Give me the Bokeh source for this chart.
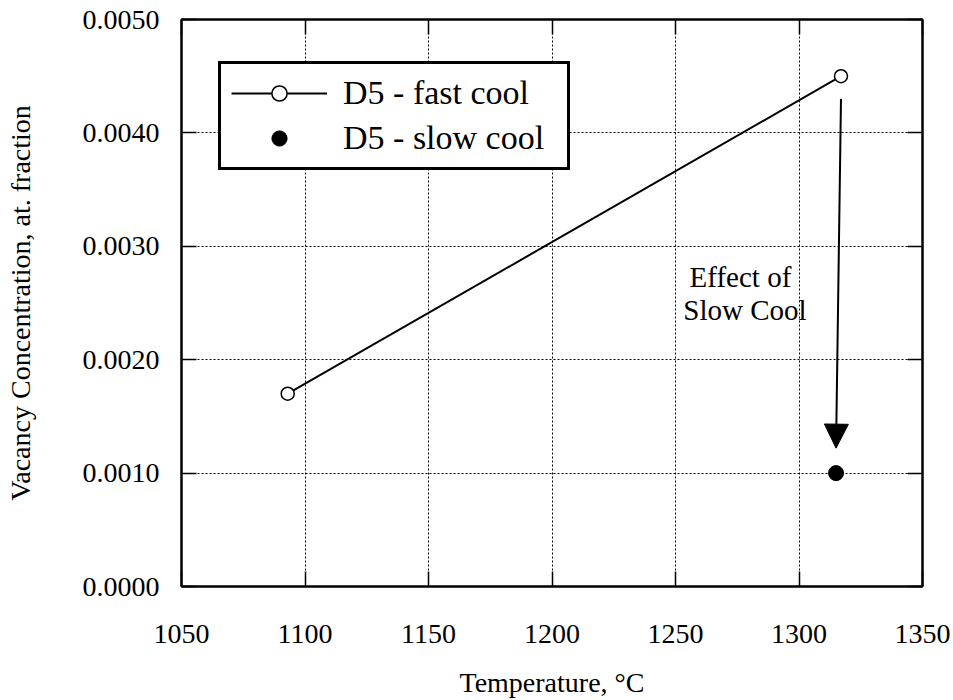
from bokeh.plotting import figure
from bokeh.models import (Range1d, FixedTicker, NumeralTickFormatter, LinearAxis,
                          Legend, LegendItem, Arrow, NormalHead, ColumnDataSource)
from bokeh.core.properties import value
from bokeh.embed import file_html
from bokeh.resources import INLINE

# Measured vacancy concentrations (at. fraction) vs. anneal temperature (deg C)
fast_temp = [1093, 1317]
fast_conc = [0.0017, 0.0045]
slow_temp = [1315]
slow_conc = [0.0010]

x_ticks = [1050, 1100, 1150, 1200, 1250, 1300, 1350]
y_ticks = [0.0, 0.001, 0.002, 0.003, 0.004, 0.005]

# Arrow showing the drop caused by slow cooling
arrow_start = (1317, 0.0043)
arrow_end = (1315, 0.00122)

FONT = "Liberation Serif"

p = figure(width=953, height=700, output_backend="svg", toolbar_location=None,
           x_range=Range1d(1050, 1350), y_range=Range1d(0, 0.005),
           min_border_left=181, min_border_right=31, min_border_top=19,
           min_border_bottom=113)
p.background_fill_color = "white"
p.border_fill_color = "white"
p.outline_line_color = "black"
p.outline_line_width = 2

# Dotted grid
for g in (p.xgrid, p.ygrid):
    g.grid_line_color = "black"
    g.grid_line_dash = "2 2"
    g.grid_line_width = 1

p.xgrid.ticker = FixedTicker(ticks=x_ticks)
p.ygrid.ticker = FixedTicker(ticks=y_ticks)


def style_axis(ax, ticks, show_labels=True):
    ax.ticker = FixedTicker(ticks=ticks)
    ax.axis_line_color = "black"
    ax.axis_line_width = 2
    ax.major_tick_in = 15
    ax.major_tick_out = 0
    ax.major_tick_line_width = 1.5
    ax.major_tick_line_color = "black"
    ax.minor_tick_line_color = None
    ax.major_label_text_font = FONT
    ax.major_label_text_color = "black"
    ax.axis_label_text_font = FONT
    ax.axis_label_text_font_style = "normal"
    ax.axis_label_text_color = "black"
    if not show_labels:
        # tick marks only on the mirrored axes
        ax.major_label_text_color = None
        ax.major_label_standoff = 0


xa = p.xaxis[0]
ya = p.yaxis[0]
style_axis(xa, x_ticks)
style_axis(ya, y_ticks)
xa.major_label_text_font_size = "28px"
ya.major_label_text_font_size = "28px"
xa.axis_label = "Temperature, °C"
ya.axis_label = "Vacancy Concentration, at. fraction"
xa.axis_label_text_font_size = "28px"
ya.axis_label_text_font_size = "28px"
xa.major_label_standoff = 38
xa.axis_label_standoff = 21
ya.major_label_standoff = 22
ya.axis_label_standoff = 44
ya.formatter = NumeralTickFormatter(format="0.0000")

top_ax = LinearAxis()
right_ax = LinearAxis()
style_axis(top_ax, x_ticks, show_labels=False)
style_axis(right_ax, y_ticks, show_labels=False)
p.add_layout(top_ax, "above")
p.add_layout(right_ax, "right")

fast_src = ColumnDataSource(dict(t=fast_temp, c=fast_conc))
slow_src = ColumnDataSource(dict(t=slow_temp, c=slow_conc))

fast_line = p.line("t", "c", source=fast_src, line_color="black", line_width=2)
fast_pts = p.scatter("t", "c", source=fast_src, marker="circle", size=13,
                     fill_color="white", line_color="black", line_width=1.5)
slow_pts = p.scatter("t", "c", source=slow_src, marker="circle", size=15,
                     fill_color="black", line_color="black")

p.add_layout(Arrow(end=NormalHead(size=24, fill_color="black", line_color="black"),
                   x_start=arrow_start[0], y_start=arrow_start[1],
                   x_end=arrow_end[0], y_end=arrow_end[1],
                   line_color="black", line_width=2))

p.text(x=[1276.3], y=[0.00273], text=["Effect of"], text_font=value(FONT),
       text_font_size="29px", text_align="center", text_baseline="middle",
       text_color="black")
p.text(x=[1279.6], y=[0.00244], text=["Slow  Cool"], text_font=value(FONT),
       text_font_size="29px", text_align="center", text_baseline="middle",
       text_color="black")

legend = Legend(items=[LegendItem(label="D5 - fast cool", renderers=[fast_line, fast_pts]),
                       LegendItem(label="D5 - slow cool", renderers=[slow_pts])],
                location=(37, 416))
legend.border_line_color = "black"
legend.border_line_alpha = 1
legend.border_line_width = 3
legend.background_fill_color = "white"
legend.background_fill_alpha = 1
legend.label_text_font = FONT
legend.label_text_font_size = "34px"
legend.label_text_color = "black"
legend.glyph_width = 96
legend.glyph_height = 38
legend.label_height = 38
legend.label_width = 214
legend.label_standoff = 16
legend.spacing = 7
legend.padding = 10
legend.margin = 0
p.add_layout(legend)

open("out.html", "w").write(file_html(p, INLINE))
